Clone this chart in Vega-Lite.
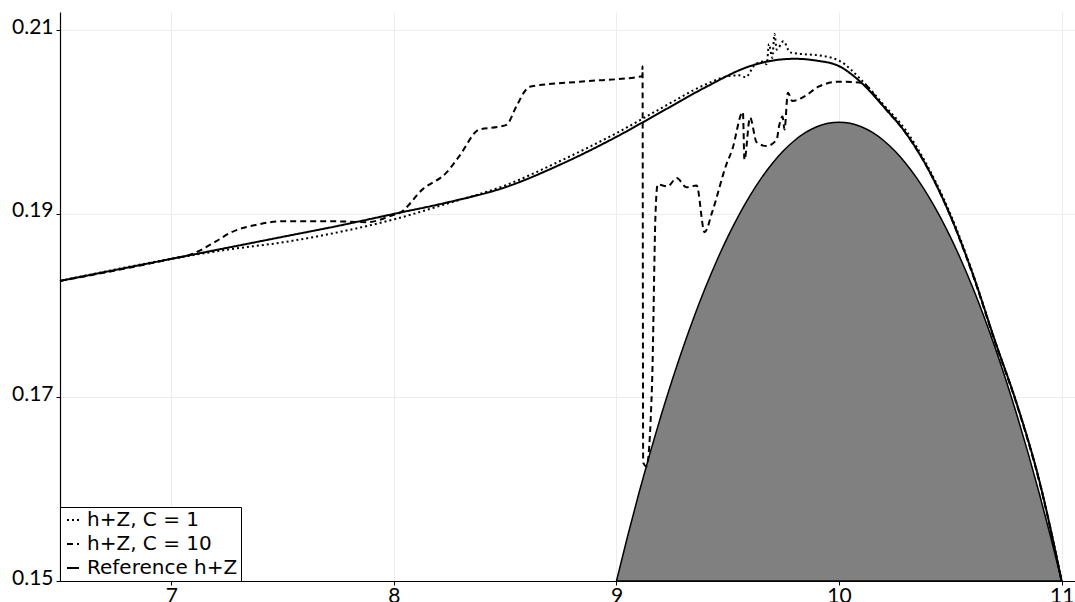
{
  "$schema": "https://vega.github.io/schema/vega-lite/v6.json",
  "width": 1015,
  "height": 569,
  "autosize": {"type": "none"},
  "padding": {"left": 60, "top": 12, "right": 0, "bottom": 21},
  "background": "white",
  "config": {
    "view": {"stroke": null},
    "font": "Lato",
    "axis": {
      "gridColor": "#ececec",
      "gridWidth": 1,
      "domainColor": "black",
      "domainWidth": 1.2,
      "tickColor": "black",
      "tickSize": 4,
      "labelFont": "Lato",
      "labelFontSize": 21,
      "labelColor": "black",
      "title": null
    }
  },
  "datasets": {
    "bump": [
      {"x": 9.0, "y": 0.15}, {"x": 9.05, "y": 0.154875}, {"x": 9.1, "y": 0.1595}, {"x": 9.15, "y": 0.163875},
      {"x": 9.2, "y": 0.168}, {"x": 9.25, "y": 0.171875}, {"x": 9.3, "y": 0.1755}, {"x": 9.35, "y": 0.178875},
      {"x": 9.4, "y": 0.182}, {"x": 9.45, "y": 0.184875}, {"x": 9.5, "y": 0.1875}, {"x": 9.55, "y": 0.189875},
      {"x": 9.6, "y": 0.192}, {"x": 9.65, "y": 0.193875}, {"x": 9.7, "y": 0.1955}, {"x": 9.75, "y": 0.196875},
      {"x": 9.8, "y": 0.198}, {"x": 9.85, "y": 0.198875}, {"x": 9.9, "y": 0.1995}, {"x": 9.95, "y": 0.199875},
      {"x": 10.0, "y": 0.2}, {"x": 10.05, "y": 0.199875}, {"x": 10.1, "y": 0.1995}, {"x": 10.15, "y": 0.198875},
      {"x": 10.2, "y": 0.198}, {"x": 10.25, "y": 0.196875}, {"x": 10.3, "y": 0.1955}, {"x": 10.35, "y": 0.193875},
      {"x": 10.4, "y": 0.192}, {"x": 10.45, "y": 0.189875}, {"x": 10.5, "y": 0.1875}, {"x": 10.55, "y": 0.184875},
      {"x": 10.6, "y": 0.182}, {"x": 10.65, "y": 0.178875}, {"x": 10.7, "y": 0.1755}, {"x": 10.75, "y": 0.171875},
      {"x": 10.8, "y": 0.168}, {"x": 10.85, "y": 0.163875}, {"x": 10.9, "y": 0.1595}, {"x": 10.95, "y": 0.154875},
      {"x": 11.0, "y": 0.15}
    ],
    "lines": [
      {"series": "Reference h+Z", "x": 6.5, "y": 0.1827},
      {"series": "Reference h+Z", "x": 6.75, "y": 0.1839},
      {"series": "Reference h+Z", "x": 7.0, "y": 0.1851},
      {"series": "Reference h+Z", "x": 7.25, "y": 0.1863},
      {"series": "Reference h+Z", "x": 7.5, "y": 0.1875},
      {"series": "Reference h+Z", "x": 7.75, "y": 0.1887},
      {"series": "Reference h+Z", "x": 8.0, "y": 0.19},
      {"series": "Reference h+Z", "x": 8.25, "y": 0.1913},
      {"series": "Reference h+Z", "x": 8.5, "y": 0.1929},
      {"series": "Reference h+Z", "x": 8.75, "y": 0.1954},
      {"series": "Reference h+Z", "x": 9.0, "y": 0.1984},
      {"series": "Reference h+Z", "x": 9.2, "y": 0.2011},
      {"series": "Reference h+Z", "x": 9.4, "y": 0.2038},
      {"series": "Reference h+Z", "x": 9.6, "y": 0.2061},
      {"series": "Reference h+Z", "x": 9.7, "y": 0.2067},
      {"series": "Reference h+Z", "x": 9.8, "y": 0.2069},
      {"series": "Reference h+Z", "x": 9.9, "y": 0.2067},
      {"series": "Reference h+Z", "x": 10.0, "y": 0.2061},
      {"series": "Reference h+Z", "x": 10.1, "y": 0.2043},
      {"series": "Reference h+Z", "x": 10.2, "y": 0.2017},
      {"series": "Reference h+Z", "x": 10.3, "y": 0.1988},
      {"series": "Reference h+Z", "x": 10.4, "y": 0.1949},
      {"series": "Reference h+Z", "x": 10.5, "y": 0.1898},
      {"series": "Reference h+Z", "x": 10.6, "y": 0.1835},
      {"series": "Reference h+Z", "x": 10.7, "y": 0.1762},
      {"series": "Reference h+Z", "x": 10.8, "y": 0.1692},
      {"series": "Reference h+Z", "x": 10.9, "y": 0.1609},
      {"series": "Reference h+Z", "x": 11.0, "y": 0.15},

      {"series": "h+Z, C = 1", "x": 6.5, "y": 0.1827},
      {"series": "h+Z, C = 1", "x": 7.0, "y": 0.1851},
      {"series": "h+Z, C = 1", "x": 7.25, "y": 0.1861},
      {"series": "h+Z, C = 1", "x": 7.5, "y": 0.1869},
      {"series": "h+Z, C = 1", "x": 7.75, "y": 0.188},
      {"series": "h+Z, C = 1", "x": 8.0, "y": 0.1894},
      {"series": "h+Z, C = 1", "x": 8.25, "y": 0.1912},
      {"series": "h+Z, C = 1", "x": 8.5, "y": 0.1931},
      {"series": "h+Z, C = 1", "x": 8.75, "y": 0.1958},
      {"series": "h+Z, C = 1", "x": 9.0, "y": 0.1988},
      {"series": "h+Z, C = 1", "x": 9.2, "y": 0.2015},
      {"series": "h+Z, C = 1", "x": 9.4, "y": 0.2041},
      {"series": "h+Z, C = 1", "x": 9.5, "y": 0.205},
      {"series": "h+Z, C = 1", "x": 9.55, "y": 0.2051},
      {"series": "h+Z, C = 1", "x": 9.58, "y": 0.2049},
      {"series": "h+Z, C = 1", "x": 9.62, "y": 0.2062},
      {"series": "h+Z, C = 1", "x": 9.66, "y": 0.2066},
      {"series": "h+Z, C = 1", "x": 9.675, "y": 0.2063},
      {"series": "h+Z, C = 1", "x": 9.685, "y": 0.2085},
      {"series": "h+Z, C = 1", "x": 9.7, "y": 0.207},
      {"series": "h+Z, C = 1", "x": 9.71, "y": 0.2096},
      {"series": "h+Z, C = 1", "x": 9.72, "y": 0.2079},
      {"series": "h+Z, C = 1", "x": 9.75, "y": 0.2088},
      {"series": "h+Z, C = 1", "x": 9.78, "y": 0.2076},
      {"series": "h+Z, C = 1", "x": 9.84, "y": 0.2074},
      {"series": "h+Z, C = 1", "x": 9.9, "y": 0.2073},
      {"series": "h+Z, C = 1", "x": 10.0, "y": 0.2067},
      {"series": "h+Z, C = 1", "x": 10.1, "y": 0.2046},
      {"series": "h+Z, C = 1", "x": 10.2, "y": 0.2019},
      {"series": "h+Z, C = 1", "x": 10.3, "y": 0.1991},
      {"series": "h+Z, C = 1", "x": 10.4, "y": 0.1951},
      {"series": "h+Z, C = 1", "x": 10.5, "y": 0.19},
      {"series": "h+Z, C = 1", "x": 10.6, "y": 0.1836},
      {"series": "h+Z, C = 1", "x": 10.7, "y": 0.1762},
      {"series": "h+Z, C = 1", "x": 10.8, "y": 0.1692},
      {"series": "h+Z, C = 1", "x": 10.9, "y": 0.1609},
      {"series": "h+Z, C = 1", "x": 11.0, "y": 0.15},

      {"series": "h+Z, C = 10", "x": 6.5, "y": 0.1827},
      {"series": "h+Z, C = 10", "x": 7.0, "y": 0.1851},
      {"series": "h+Z, C = 10", "x": 7.09, "y": 0.1856},
      {"series": "h+Z, C = 10", "x": 7.2, "y": 0.187},
      {"series": "h+Z, C = 10", "x": 7.27, "y": 0.188},
      {"series": "h+Z, C = 10", "x": 7.38, "y": 0.1888},
      {"series": "h+Z, C = 10", "x": 7.5, "y": 0.1892},
      {"series": "h+Z, C = 10", "x": 7.72, "y": 0.1892},
      {"series": "h+Z, C = 10", "x": 7.88, "y": 0.1891},
      {"series": "h+Z, C = 10", "x": 8.0, "y": 0.1899},
      {"series": "h+Z, C = 10", "x": 8.025, "y": 0.1901},
      {"series": "h+Z, C = 10", "x": 8.13, "y": 0.1927},
      {"series": "h+Z, C = 10", "x": 8.236, "y": 0.1945},
      {"series": "h+Z, C = 10", "x": 8.294, "y": 0.1963},
      {"series": "h+Z, C = 10", "x": 8.384, "y": 0.1992},
      {"series": "h+Z, C = 10", "x": 8.474, "y": 0.1995},
      {"series": "h+Z, C = 10", "x": 8.506, "y": 0.1997},
      {"series": "h+Z, C = 10", "x": 8.55, "y": 0.2017},
      {"series": "h+Z, C = 10", "x": 8.596, "y": 0.2036},
      {"series": "h+Z, C = 10", "x": 8.62, "y": 0.2039},
      {"series": "h+Z, C = 10", "x": 8.834, "y": 0.2044},
      {"series": "h+Z, C = 10", "x": 9.116, "y": 0.205},
      {"series": "h+Z, C = 10", "x": 9.117, "y": 0.2061},
      {"series": "h+Z, C = 10", "x": 9.12, "y": 0.1629},
      {"series": "h+Z, C = 10", "x": 9.135, "y": 0.1625},
      {"series": "h+Z, C = 10", "x": 9.16, "y": 0.1716},
      {"series": "h+Z, C = 10", "x": 9.175, "y": 0.1897},
      {"series": "h+Z, C = 10", "x": 9.185, "y": 0.1932},
      {"series": "h+Z, C = 10", "x": 9.23, "y": 0.193},
      {"series": "h+Z, C = 10", "x": 9.27, "y": 0.1939},
      {"series": "h+Z, C = 10", "x": 9.315, "y": 0.1929},
      {"series": "h+Z, C = 10", "x": 9.36, "y": 0.1931},
      {"series": "h+Z, C = 10", "x": 9.396, "y": 0.188},
      {"series": "h+Z, C = 10", "x": 9.43, "y": 0.1902},
      {"series": "h+Z, C = 10", "x": 9.494, "y": 0.1954},
      {"series": "h+Z, C = 10", "x": 9.52, "y": 0.197},
      {"series": "h+Z, C = 10", "x": 9.568, "y": 0.2011},
      {"series": "h+Z, C = 10", "x": 9.575, "y": 0.1959},
      {"series": "h+Z, C = 10", "x": 9.6, "y": 0.2005},
      {"series": "h+Z, C = 10", "x": 9.63, "y": 0.1978},
      {"series": "h+Z, C = 10", "x": 9.674, "y": 0.1974},
      {"series": "h+Z, C = 10", "x": 9.72, "y": 0.1981},
      {"series": "h+Z, C = 10", "x": 9.73, "y": 0.1995},
      {"series": "h+Z, C = 10", "x": 9.746, "y": 0.2006},
      {"series": "h+Z, C = 10", "x": 9.755, "y": 0.1992},
      {"series": "h+Z, C = 10", "x": 9.77, "y": 0.2032},
      {"series": "h+Z, C = 10", "x": 9.79, "y": 0.2023},
      {"series": "h+Z, C = 10", "x": 9.845, "y": 0.2028},
      {"series": "h+Z, C = 10", "x": 9.91, "y": 0.2039},
      {"series": "h+Z, C = 10", "x": 10.0, "y": 0.2044},
      {"series": "h+Z, C = 10", "x": 10.1, "y": 0.2043},
      {"series": "h+Z, C = 10", "x": 10.17, "y": 0.2026},
      {"series": "h+Z, C = 10", "x": 10.2, "y": 0.2017},
      {"series": "h+Z, C = 10", "x": 10.3, "y": 0.1988},
      {"series": "h+Z, C = 10", "x": 10.4, "y": 0.1949},
      {"series": "h+Z, C = 10", "x": 10.5, "y": 0.1898},
      {"series": "h+Z, C = 10", "x": 10.6, "y": 0.1834},
      {"series": "h+Z, C = 10", "x": 10.7, "y": 0.1761},
      {"series": "h+Z, C = 10", "x": 10.8, "y": 0.1691},
      {"series": "h+Z, C = 10", "x": 10.9, "y": 0.1608},
      {"series": "h+Z, C = 10", "x": 11.0, "y": 0.15}
    ]
  },
  "layer": [
    {
      "data": {"name": "bump"},
      "mark": {"type": "area", "fill": "#808080", "stroke": "black", "strokeWidth": 1.5, "interpolate": "monotone"},
      "encoding": {
        "x": {"field": "x", "type": "quantitative", "scale": {"domain": [6.5, 11.06], "nice": false},
          "axis": {"values": [7, 8, 9, 10, 11], "format": "d", "labelPadding": 0}},
        "y": {"field": "y", "type": "quantitative", "scale": {"domain": [0.15, 0.212], "nice": false, "zero": false},
          "axis": {"values": [0.15, 0.17, 0.19, 0.21], "format": ".2f", "labelOffset": -3, "labelPadding": 3}},
        "y2": {"datum": 0.15}
      }
    },
    {
      "data": {"name": "lines"},
      "mark": {"type": "line", "color": "black", "strokeWidth": 2, "interpolate": "monotone"},
      "encoding": {
        "x": {"field": "x", "type": "quantitative"},
        "y": {"field": "y", "type": "quantitative"},
        "strokeDash": {
          "field": "series", "type": "nominal",
          "scale": {"domain": ["h+Z, C = 1", "h+Z, C = 10", "Reference h+Z"], "range": [[2, 3], [6, 4], [1, 0]]},
          "legend": {
            "title": null, "orient": "bottom-left", "offset": 0,
            "strokeColor": "black", "fillColor": "white", "padding": 3, "cornerRadius": 0,
            "symbolType": "stroke", "symbolSize": 144, "symbolStrokeWidth": 2, "symbolStrokeColor": "black",
            "labelFont": "DejaVu Sans", "labelFontSize": 20, "labelColor": "black", "labelOffset": 4, "labelLimit": 400,
            "rowPadding": 4
          }
        }
      }
    }
  ]
}
